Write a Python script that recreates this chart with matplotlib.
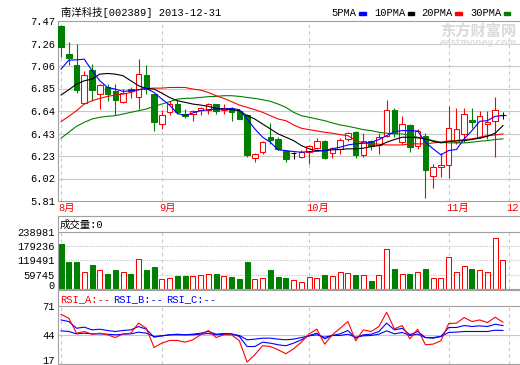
import matplotlib.pyplot as plt
import numpy as np
from matplotlib.patches import Rectangle

# 日K数据
opens = [7.42, 7.17, 7.06, 6.71, 7.02, 6.80, 6.86, 6.82, 6.72, 6.84,
         6.77, 6.97, 6.80, 6.52, 6.63, 6.70, 6.61, 6.61, 6.65, 6.65,
         6.70, 6.65, 6.67, 6.64, 6.60, 6.21, 6.26, 6.40, 6.38, 6.27,
         6.25, 6.22, 6.26, 6.30, 6.36, 6.25, 6.29, 6.38, 6.45, 6.23,
         6.36, 6.33, 6.41, 6.65, 6.35, 6.51, 6.32, 6.41, 6.04, 6.12,
         6.14, 6.35, 6.43, 6.56, 6.40, 6.52, 6.55, 6.60]
highs = [7.43, 7.28, 7.26, 7.01, 7.07, 6.89, 6.89, 6.89, 6.84, 6.86,
         7.12, 7.06, 6.80, 6.65, 6.73, 6.74, 6.66, 6.65, 6.68, 6.71,
         6.70, 6.70, 6.68, 6.66, 6.61, 6.25, 6.36, 6.53, 6.40, 6.28,
         6.26, 6.28, 6.33, 6.39, 6.37, 6.31, 6.39, 6.45, 6.46, 6.44,
         6.37, 6.44, 6.74, 6.67, 6.59, 6.52, 6.47, 6.44, 6.15, 6.25,
         6.69, 6.67, 6.67, 6.67, 6.64, 6.64, 6.77, 6.63]
lows = [7.14, 7.06, 6.81, 6.70, 6.73, 6.66, 6.73, 6.60, 6.71, 6.76,
        6.66, 6.80, 6.46, 6.47, 6.60, 6.61, 6.58, 6.55, 6.60, 6.61,
        6.61, 6.61, 6.55, 6.57, 6.22, 6.17, 6.24, 6.34, 6.28, 6.17,
        6.20, 6.21, 6.15, 6.29, 6.20, 6.21, 6.24, 6.36, 6.21, 6.22,
        6.28, 6.24, 6.40, 6.40, 6.34, 6.26, 6.29, 5.84, 5.93, 6.03,
        6.02, 6.34, 6.35, 6.48, 6.39, 6.38, 6.22, 6.57]
closes = [7.23, 7.13, 6.83, 6.97, 6.83, 6.88, 6.80, 6.74, 6.81, 6.82,
          6.98, 6.84, 6.54, 6.60, 6.70, 6.63, 6.59, 6.64, 6.67, 6.70,
          6.64, 6.67, 6.63, 6.57, 6.23, 6.24, 6.35, 6.37, 6.29, 6.20,
          6.25, 6.26, 6.32, 6.36, 6.21, 6.30, 6.37, 6.44, 6.23, 6.36,
          6.32, 6.40, 6.65, 6.44, 6.52, 6.31, 6.46, 6.10, 6.12, 6.14,
          6.48, 6.47, 6.61, 6.54, 6.59, 6.54, 6.65, 6.60]
volumes = [190000, 114300, 114300, 73300, 102400, 81200, 62500, 78500, 69300, 62500,
           125000, 81200, 90400, 41400, 45400, 54600, 54600, 54600, 58500, 62500,
           62500, 54600, 50600, 42600, 114300, 41400, 45400, 78500, 50600, 45800,
           37400, 29500, 49400, 45400, 58500, 53400, 69300, 65300, 58500, 57400,
           33500, 57400, 168900, 85200, 62500, 62500, 69300, 82400, 45400, 45400,
           133000, 69300, 98400, 82400, 81200, 69300, 212700, 121000]

# 均线
ma5 = [7.026, 7.109, 7.112, 7.118, 7.011, 6.919, 6.857, 6.842, 6.821, 6.827,
       6.836, 6.848, 6.811, 6.750, 6.695, 6.618, 6.597, 6.622, 6.643, 6.652,
       6.658, 6.658, 6.664, 6.652, 6.566, 6.475, 6.398, 6.352, 6.282, 6.275,
       6.266, 6.260, 6.266, 6.269, 6.275, 6.291, 6.306, 6.327, 6.337, 6.343,
       6.352, 6.377, 6.413, 6.450, 6.459, 6.459, 6.456, 6.352, 6.291, 6.236,
       6.275, 6.285, 6.383, 6.459, 6.545, 6.551, 6.591, 6.597]
ma10 = [6.787, 6.836, 6.888, 6.919, 6.934, 6.980, 6.986, 6.980, 6.965, 6.919,
        6.873, 6.848, 6.842, 6.805, 6.765, 6.735, 6.720, 6.704, 6.695, 6.683,
        6.664, 6.658, 6.652, 6.643, 6.597, 6.566, 6.520, 6.475, 6.429, 6.398,
        6.367, 6.321, 6.291, 6.275, 6.275, 6.282, 6.285, 6.291, 6.291, 6.297,
        6.312, 6.321, 6.352, 6.377, 6.398, 6.398, 6.392, 6.383, 6.361, 6.346,
        6.358, 6.364, 6.367, 6.377, 6.389, 6.407, 6.435, 6.505]
ma20 = [6.542, 6.591, 6.643, 6.704, 6.735, 6.756, 6.775, 6.787, 6.796, 6.811,
        6.836, 6.848, 6.851, 6.851, 6.857, 6.857, 6.857, 6.842, 6.833, 6.811,
        6.781, 6.756, 6.726, 6.695, 6.674, 6.652, 6.628, 6.597, 6.566, 6.551,
        6.511, 6.481, 6.468, 6.456, 6.444, 6.435, 6.422, 6.413, 6.367, 6.346,
        6.337, 6.334, 6.327, 6.327, 6.327, 6.337, 6.337, 6.337, 6.346, 6.352,
        6.364, 6.367, 6.377, 6.383, 6.398, 6.413, 6.419, 6.429]
ma30 = [6.389, 6.444, 6.499, 6.536, 6.566, 6.582, 6.591, 6.597, 6.612, 6.628,
        6.643, 6.658, 6.683, 6.704, 6.726, 6.750, 6.756, 6.759, 6.765, 6.772,
        6.775, 6.781, 6.781, 6.775, 6.765, 6.756, 6.744, 6.729, 6.704, 6.674,
        6.628, 6.597, 6.582, 6.566, 6.551, 6.530, 6.511, 6.499, 6.484, 6.468,
        6.459, 6.444, 6.435, 6.429, 6.429, 6.413, 6.398, 6.383, 6.367, 6.352,
        6.346, 6.346, 6.346, 6.352, 6.361, 6.367, 6.377, 6.383]

# RSI
rsi_a = [63.0, 59.4, 45.5, 47.1, 44.6, 45.5, 44.0, 41.5, 44.9, 45.5,
         54.8, 50.1, 32.3, 36.3, 38.8, 38.8, 37.2, 39.4, 44.0, 48.0,
         41.5, 44.0, 44.0, 38.5, 18.8, 25.6, 33.9, 33.2, 30.2, 26.5,
         31.1, 37.2, 44.9, 49.2, 35.4, 44.0, 50.1, 56.3, 38.5, 48.6,
         47.1, 51.7, 64.9, 49.5, 52.6, 40.3, 49.2, 34.8, 35.4, 38.5,
         54.4, 54.8, 60.0, 56.3, 57.8, 55.4, 60.3, 55.7]
rsi_b = [57.8, 56.3, 50.1, 51.1, 48.6, 49.2, 48.0, 47.1, 48.0, 48.6,
         51.7, 49.2, 41.8, 43.1, 44.0, 44.6, 44.0, 44.6, 45.5, 47.1,
         44.6, 45.2, 44.9, 42.5, 33.2, 33.2, 37.2, 36.3, 34.8, 33.9,
         36.3, 39.4, 43.4, 45.5, 40.3, 43.4, 44.9, 48.0, 40.9, 44.0,
         44.6, 47.1, 54.8, 48.6, 50.1, 44.0, 47.1, 41.5, 40.9, 42.5,
         50.8, 50.8, 52.6, 51.7, 52.3, 51.7, 53.8, 52.6]
rsi_c = [47.7, 47.1, 44.9, 45.5, 44.9, 44.9, 44.6, 44.0, 44.6, 44.9,
         46.5, 45.5, 42.5, 43.1, 44.0, 44.0, 44.0, 44.0, 44.6, 45.2,
         44.0, 44.6, 44.6, 43.4, 39.4, 40.0, 40.9, 40.9, 40.0, 39.4,
         40.0, 41.5, 43.1, 44.0, 41.8, 43.4, 43.4, 44.6, 41.8, 43.1,
         43.4, 44.6, 47.7, 44.9, 46.2, 43.4, 44.6, 41.5, 41.5, 42.5,
         46.2, 46.5, 47.1, 47.1, 47.1, 47.1, 48.3, 48.0]

month_pos = [0, 13, 32, 50, 57.8]
month_labels = ['8月', '9月', '10月', '11月', '12']
price_labels = ['5.81', '6.02', '6.23', '6.43', '6.64', '6.85', '7.06', '7.26', '7.47']
vol_ticks = [0, 59745, 119491, 179236, 238981]
rsi_ticks = [17, 44, 71]

W, H = 520, 365
FRAME = '#a0a0a0'
GRID = '#c8c8c8'
RED, GREEN, BLUE = '#ff0000', '#008000', '#0000ff'
FS = 7.5

plt.rcParams['font.family'] = ['Liberation Mono', 'Noto Sans CJK SC']


def box(top, bottom, left=58, right=520):
    # 像素位置 -> figure 比例
    return [left / W, 1 - bottom / H, (right - left) / W, (bottom - top) / H]


def style(ax):
    for s in ax.spines.values():
        s.set_color(FRAME)
        s.set_linewidth(0.8)
    ax.spines['right'].set_visible(False)
    ax.tick_params(length=0, labelsize=FS, pad=2.2)
    ax.set_xlim(-0.39, 59.2)
    ax.set_xticks([])


def ftext(x, y, s, **kw):
    fig.text(x / W, 1 - y / H, s, va='center', fontsize=FS, **kw)


fig = plt.figure(figsize=(W / 100, H / 100), dpi=100)

x = np.arange(len(closes))
o, h, l, c = map(np.array, (opens, highs, lows, closes))

# ---- K线 ----
ax1 = fig.add_axes(box(21, 201))
style(ax1)
ax1.set_ylim(5.81, 7.47)
yt = np.linspace(5.81, 7.47, 9)
ax1.set_yticks(yt)
ax1.set_yticklabels(price_labels)
ax1.hlines(yt[1:-1], -1, 60, colors=GRID, lw=0.8, zorder=0)
ax1.vlines(month_pos, 5.81, 7.47, colors=GRID, lw=0.8, linestyles=(0, (3, 3)), zorder=0)

col = np.where(c > o, RED, np.where(c < o, GREEN, 'black'))
face = np.where(c > o, 'white', col)
ax1.vlines(x, l, h, colors=col, lw=0.8, zorder=2)
ax1.bar(x, np.maximum(np.abs(c - o), 0.003), 0.72, bottom=np.minimum(o, c),
        color=face, edgecolor=col, lw=0.75, zorder=3)

ax1.plot(x, ma30, color=GREEN, lw=0.8, zorder=4)
ax1.plot(x, ma20, color=RED, lw=0.8, zorder=4)
ax1.plot(x, ma10, color='black', lw=0.8, zorder=4)
ax1.plot(x, ma5, color=BLUE, lw=0.8, zorder=4)

for p, s in zip(month_pos, month_labels):
    ax1.annotate(s, xy=(p, 0), xycoords=('data', 'axes fraction'),
                 xytext=(-1.8, -5.2), textcoords='offset points',
                 ha='left', va='center', color=RED, fontsize=FS,
                 annotation_clip=False)

# 标题和图例
ftext(61, 12.5, '南洋科技[002389] 2013-12-31')
legend = [('5PMA', BLUE, 331.5), ('10PMA', 'black', 374), ('20PMA', RED, 421.5), ('30PMA', GREEN, 470)]
for name, cc, px in legend:
    ftext(px, 13, name)
    sx = px + len(name) * 6.25 + 2.5
    fig.patches.append(Rectangle((sx / W, 1 - 15.3 / H), 6.5 / W, 3 / H,
                                 transform=fig.transFigure, color=cc))

# 水印
fig.text(478 / W, 1 - 31 / H, '东方财富网', ha='center', va='center', fontsize=11,
         family='Noto Sans CJK SC', weight='bold', color='#dadada')
fig.text(478 / W, 1 - 42.5 / H, 'eastmoney.com', ha='center', va='center', fontsize=6.3,
         family='DejaVu Sans', weight='bold', color='#e0e0e0')

# ---- 成交量 ----
ax2 = fig.add_axes(box(216, 289))
style(ax2)
ax2.set_ylim(0, 306060)
ax2.set_yticks(vol_ticks)
ax2.set_yticklabels([str(v) for v in vol_ticks])
ax2.get_yticklabels()[0].set_va('baseline')
ax2.hlines(vol_ticks[1:4], -1, 60, colors=GRID, lw=0.8, linestyles=(0, (1, 1)), zorder=0)
ax2.axhline(vol_ticks[-1], color=FRAME, lw=0.8)
ax2.vlines(month_pos, 0, vol_ticks[-1], colors=GRID, lw=0.8, linestyles=(0, (3, 3)), zorder=0)
vcol = np.where(c >= o, RED, GREEN)
vface = np.where(c >= o, 'white', GREEN)
ax2.bar(x, volumes, 0.65, color=vface, edgecolor=vcol, lw=0.75, zorder=2)
ftext(60, 225, '成交量:0')

# ---- RSI ----
ax3 = fig.add_axes(box(290, 364))
style(ax3)
ax3.set_ylim(17, 85.5)
ax3.set_yticks(rsi_ticks)
ax3.set_yticklabels([str(v) for v in rsi_ticks])
ax3.get_yticklabels()[0].set_va('baseline')
ax3.axhline(71, color=FRAME, lw=0.8)
ax3.axhline(44, color=GRID, lw=0.8, zorder=0)
ax3.vlines(month_pos, 17, 71, colors=GRID, lw=0.8, linestyles=(0, (3, 3)), zorder=0)
ax3.plot(x, rsi_c, color=BLUE, lw=0.8)
ax3.plot(x, rsi_b, color=BLUE, lw=0.8)
ax3.plot(x, rsi_a, color=RED, lw=0.8)
ftext(60, 299, 'RSI_A:--', color=RED)
ftext(113, 299, 'RSI_B:--', color=BLUE)
ftext(166.5, 299, 'RSI_C:--', color=BLUE)

fig.savefig('out.png', dpi=100, facecolor='white')
